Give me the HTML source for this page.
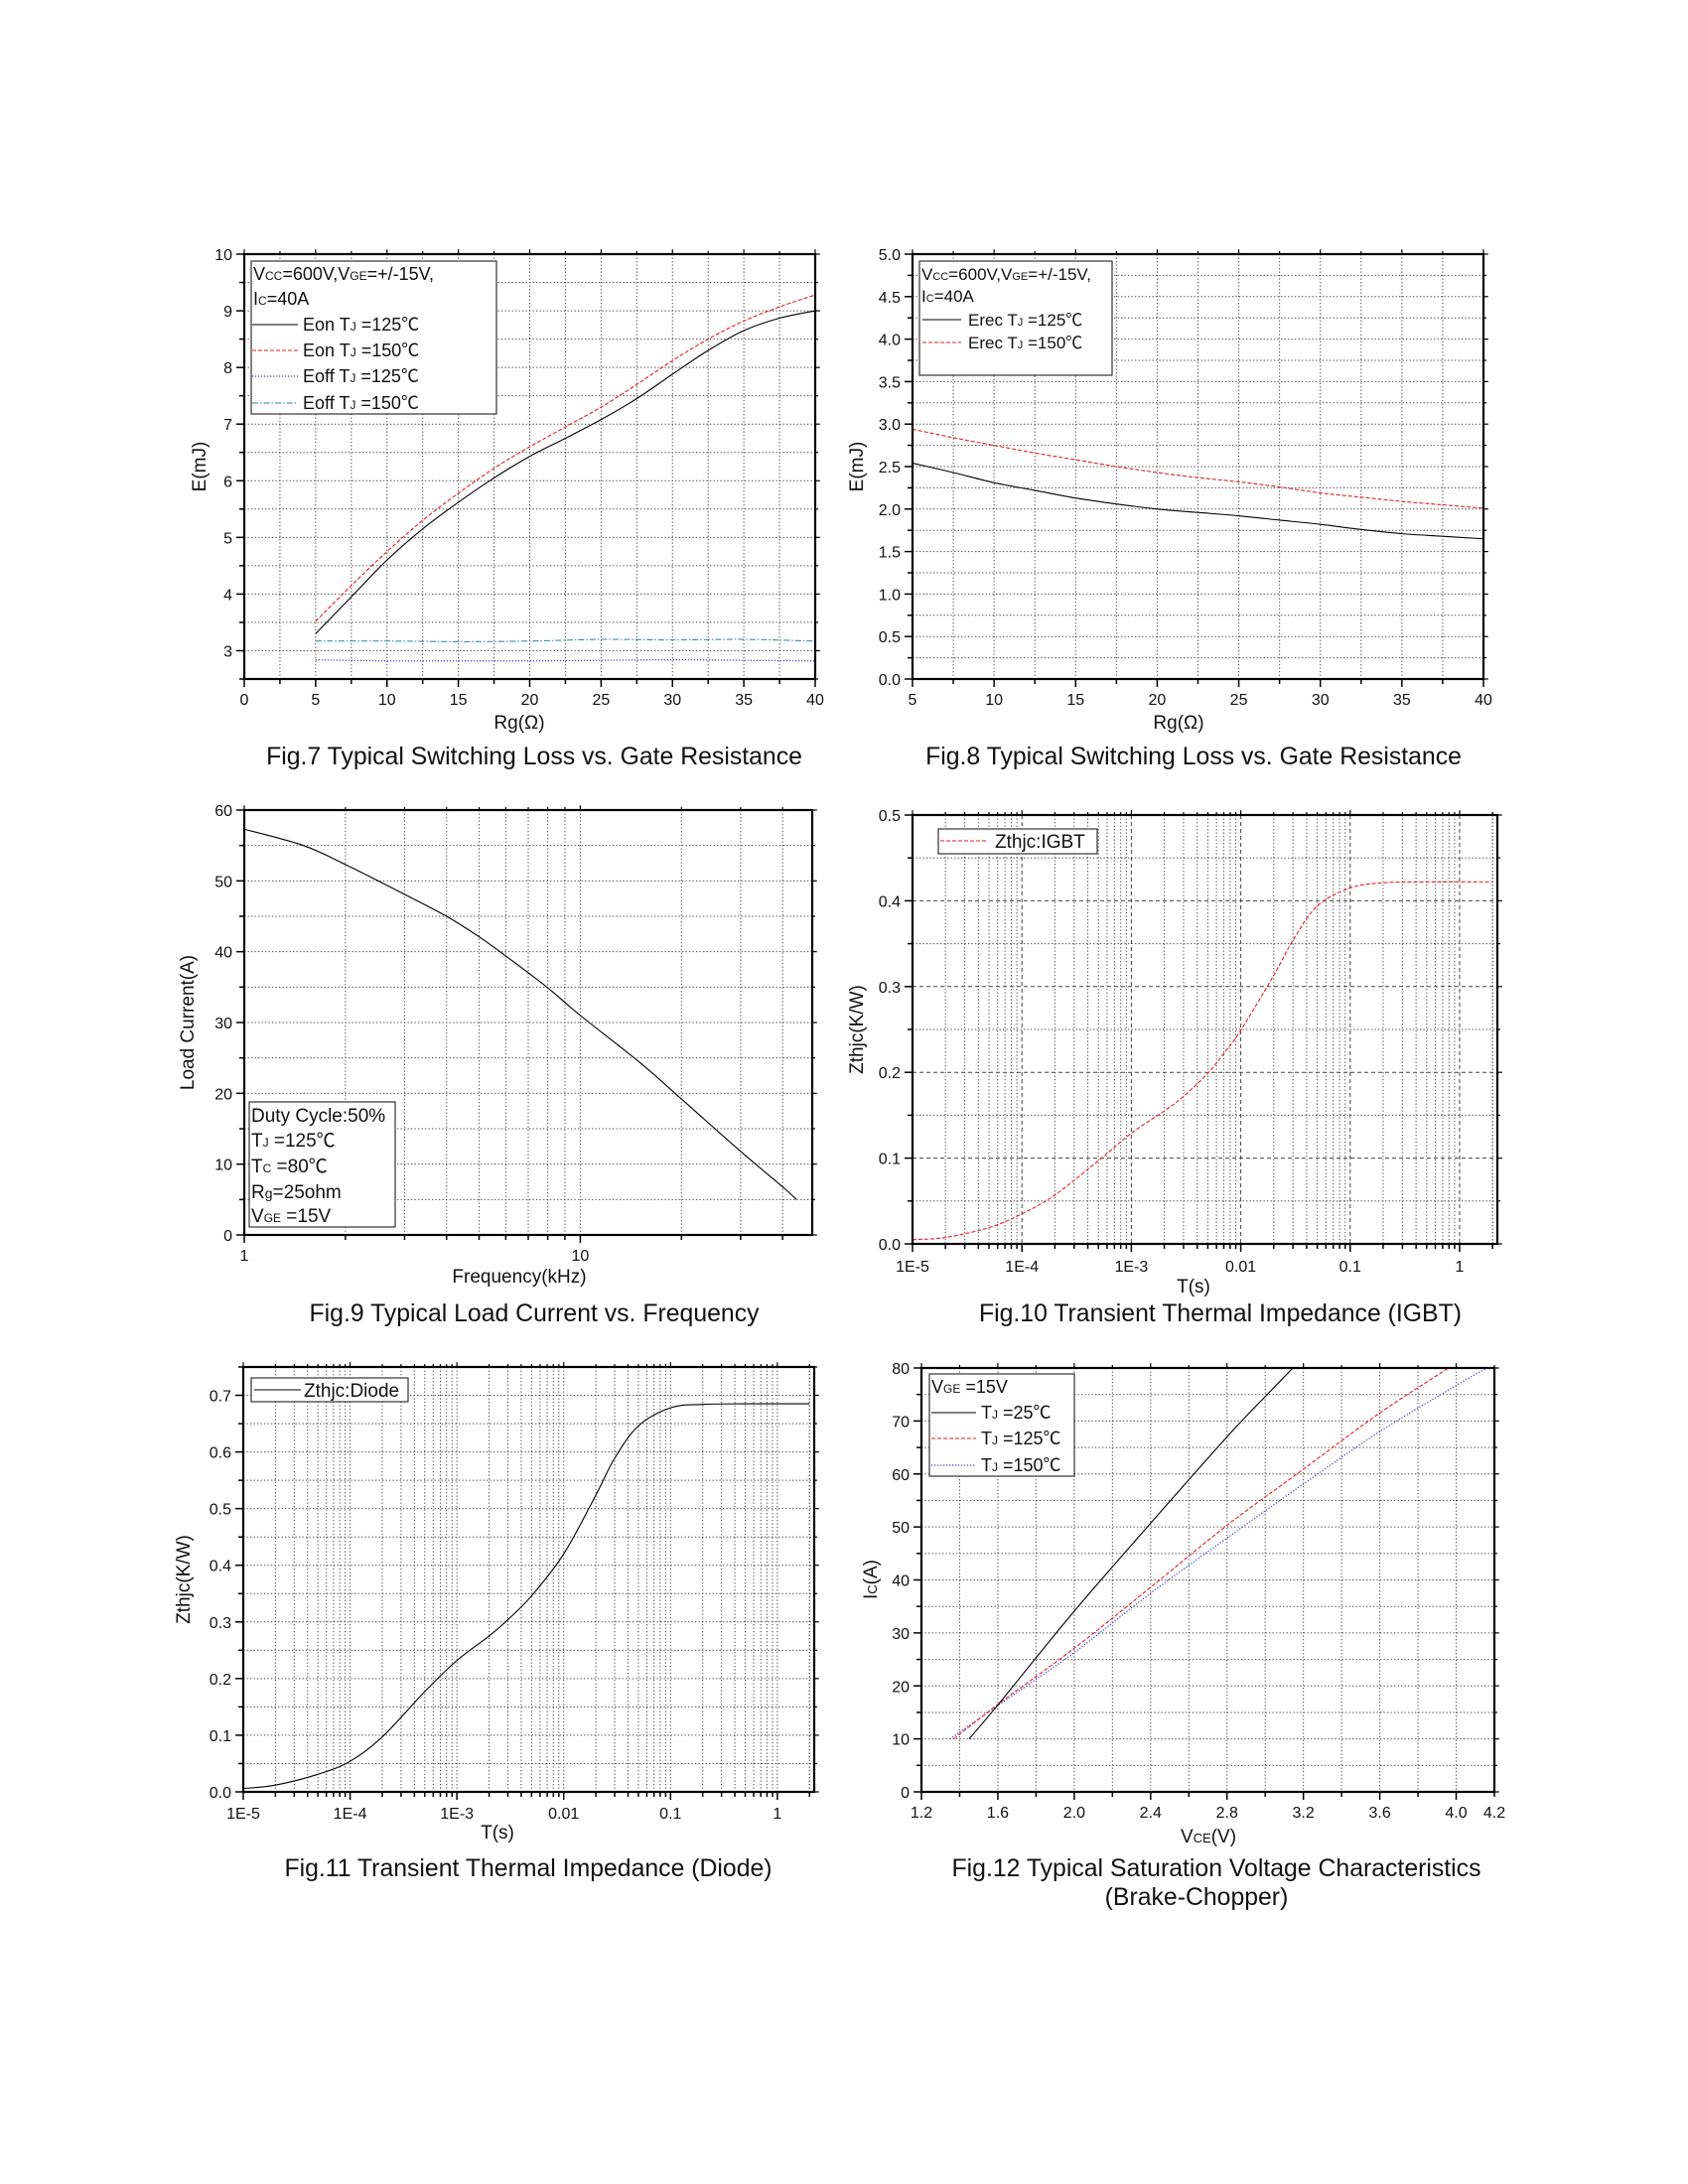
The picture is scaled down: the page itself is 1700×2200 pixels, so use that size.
<!DOCTYPE html>
<html><head><meta charset="utf-8"><style>
html,body{margin:0;padding:0;background:#fff;}
svg{display:block;font-family:"Liberation Sans","Noto Sans CJK SC",sans-serif;}
</style></head><body>
<svg id="page" xmlns="http://www.w3.org/2000/svg" width="1700" height="2200" viewBox="0 0 1700 2200">
<rect width="1700" height="2200" fill="#fff"/>
<g id="g7"></g>
<g id="g8"></g>
<g id="g9"></g>
<g id="g10"></g>
<g id="g11"></g>
<g id="g12"></g>

<!-- captions -->
<g font-size="24.8" fill="#111" text-anchor="middle">
<text x="538" y="770">Fig.7 Typical Switching Loss vs. Gate Resistance</text>
<text x="1202" y="770">Fig.8 Typical Switching Loss vs. Gate Resistance</text>
<text x="538" y="1331">Fig.9 Typical Load Current vs. Frequency</text>
<text x="1229" y="1331">Fig.10 Transient Thermal Impedance (IGBT)</text>
<text x="532" y="1890">Fig.11 Transient Thermal Impedance (Diode)</text>
<text x="1225" y="1890">Fig.12 Typical Saturation Voltage Characteristics</text>
<text x="1205" y="1919">(Brake-Chopper)</text>
</g>

<!-- axis titles -->
<g font-size="19" fill="#111" text-anchor="middle">
<text x="523" y="734">Rg(Ω)</text>
<text transform="translate(207,470) rotate(-90)">E(mJ)</text>
<text x="1187" y="734">Rg(Ω)</text>
<text transform="translate(869,470) rotate(-90)">E(mJ)</text>
<text x="523" y="1292">Frequency(kHz)</text>
<text transform="translate(195,1030) rotate(-90)">Load Current(A)</text>
<text x="1202" y="1302">T(s)</text>
<text transform="translate(869,1037) rotate(-90)">Zthjc(K/W)</text>
<text x="501" y="1852">T(s)</text>
<text transform="translate(191,1591) rotate(-90)">Zthjc(K/W)</text>
<text x="1217" y="1856">V<tspan font-size="13">CE</tspan>(V)</text>
<text transform="translate(883,1591) rotate(-90)">I<tspan font-size="13">C</tspan>(A)</text>
</g>

<!-- legends -->
<g id="leg7" font-size="18" fill="#111">
<rect x="253" y="263" width="247" height="154" fill="#fff" stroke="#333" stroke-width="1.2"/>
<text x="255" y="282">V<tspan font-size="12">CC</tspan>=600V,V<tspan font-size="12">GE</tspan>=+/-15V,</text>
<text x="255" y="307">I<tspan font-size="12">C</tspan>=40A</text>
<line x1="254" y1="327" x2="300" y2="327" stroke="#000" stroke-width="1"/>
<text x="305" y="333">Eon T<tspan font-size="12">J</tspan> =125℃</text>
<line x1="254" y1="353" x2="300" y2="353" stroke="#e0202a" stroke-width="1" stroke-dasharray="4 2"/>
<text x="305" y="359">Eon T<tspan font-size="12">J</tspan> =150℃</text>
<line x1="254" y1="379" x2="300" y2="379" stroke="#3b3bc8" stroke-width="1.2" stroke-dasharray="1.2 1.8"/>
<text x="305" y="385">Eoff T<tspan font-size="12">J</tspan> =125℃</text>
<line x1="254" y1="406" x2="300" y2="406" stroke="#1f8a8a" stroke-width="1" stroke-dasharray="6 2 1.5 2"/>
<text x="305" y="412">Eoff T<tspan font-size="12">J</tspan> =150℃</text>
</g>
<g id="leg8" font-size="17" fill="#111">
<rect x="926" y="263" width="194" height="115" fill="#fff" stroke="#333" stroke-width="1.2"/>
<text x="928" y="282">V<tspan font-size="11">CC</tspan>=600V,V<tspan font-size="11">GE</tspan>=+/-15V,</text>
<text x="928" y="304">I<tspan font-size="11">C</tspan>=40A</text>
<line x1="929" y1="322" x2="968" y2="322" stroke="#000" stroke-width="1"/>
<text x="975" y="328">Erec T<tspan font-size="11">J</tspan> =125℃</text>
<line x1="929" y1="345" x2="968" y2="345" stroke="#e0202a" stroke-width="1" stroke-dasharray="4 2"/>
<text x="975" y="351">Erec T<tspan font-size="11">J</tspan> =150℃</text>
</g>
<g id="leg9" font-size="19" fill="#111">
<rect x="251" y="1110" width="147" height="126" fill="#fff" stroke="#333" stroke-width="1.2"/>
<text x="253" y="1130">Duty Cycle:50%</text>
<text x="253" y="1155">T<tspan font-size="12">J</tspan> =125℃</text>
<text x="253" y="1181">T<tspan font-size="12">C</tspan> =80℃</text>
<text x="253" y="1207">R<tspan font-size="14">g</tspan>=25ohm</text>
<text x="253" y="1231">V<tspan font-size="12">GE</tspan> =15V</text>
</g>
<g id="leg10" font-size="19" fill="#111">
<rect x="945" y="835" width="160" height="25" fill="#fff" stroke="#333" stroke-width="1.2"/>
<line x1="947" y1="847" x2="994" y2="847" stroke="#e0202a" stroke-width="1" stroke-dasharray="4 2"/>
<text x="1002" y="854">Zthjc:IGBT</text>
</g>
<g id="leg11" font-size="19" fill="#111">
<rect x="253" y="1388" width="158" height="24" fill="#fff" stroke="#333" stroke-width="1.2"/>
<line x1="256" y1="1400" x2="303" y2="1400" stroke="#000" stroke-width="1"/>
<text x="306" y="1407">Zthjc:Diode</text>
</g>
<g id="leg12" font-size="18" fill="#111">
<rect x="936" y="1384" width="146" height="103" fill="#fff" stroke="#333" stroke-width="1.2"/>
<text x="938" y="1403">V<tspan font-size="12">GE</tspan> =15V</text>
<line x1="938" y1="1423" x2="983" y2="1423" stroke="#000" stroke-width="1"/>
<text x="988" y="1429">T<tspan font-size="12">J</tspan> =25℃</text>
<line x1="938" y1="1449" x2="983" y2="1449" stroke="#e0202a" stroke-width="1" stroke-dasharray="4 2"/>
<text x="988" y="1455">T<tspan font-size="12">J</tspan> =125℃</text>
<line x1="938" y1="1476" x2="983" y2="1476" stroke="#3b3bc8" stroke-width="1.2" stroke-dasharray="1.2 1.8"/>
<text x="988" y="1482">T<tspan font-size="12">J</tspan> =150℃</text>
</g>
</svg>
<script>
// ---------- data ----------
const fig7Rg = [5,7.5,10,12.5,15,17.5,20,22.5,25,27.5,30,32.5,35,37.5,40];
const fig7EonT125 = [3.3,3.95,4.6,5.15,5.62,6.05,6.43,6.75,7.08,7.45,7.88,8.3,8.65,8.87,9.0];
const fig7EonT150 = [3.52,4.15,4.75,5.3,5.78,6.22,6.6,6.95,7.3,7.7,8.12,8.5,8.82,9.07,9.28];
const fig7RgOff = [5,10,15,20,25,30,35,40];
const fig7EoffT125 = [2.84,2.82,2.82,2.82,2.83,2.84,2.83,2.82];
const fig7EoffT150 = [3.17,3.17,3.16,3.17,3.2,3.19,3.2,3.17];
const fig7XTicks = [0,5,10,15,20,25,30,35,40];
const fig7YTicks = [3,4,5,6,7,8,9,10];

const fig8Rg = [5,7.5,10,12.5,15,17.5,20,22.5,25,27.5,30,32.5,35,37.5,40];
const fig8ErecT125 = [2.54,2.43,2.31,2.22,2.13,2.06,2.0,1.96,1.92,1.87,1.82,1.76,1.71,1.68,1.65];
const fig8ErecT150 = [2.94,2.84,2.75,2.66,2.58,2.5,2.43,2.37,2.32,2.26,2.19,2.14,2.09,2.05,2.01];
const fig8XTicks = [5,10,15,20,25,30,35,40];
const fig8YTicks = ['0.0','0.5','1.0','1.5','2.0','2.5','3.0','3.5','4.0','4.5','5.0'];

const fig9Freq = [1,1.5,2,3,4,5,6,8,10,15,20,30,40,44];
const fig9Current = [57.3,55.0,52.3,48.1,45.0,42.1,39.4,34.9,31.0,24.4,19.2,11.8,6.8,5.0];
const fig9XTicks = [1,10];
const fig9YTicks = [0,10,20,30,40,50,60];

const fig10Time = [1e-5,2e-5,5e-5,1e-4,2e-4,5e-4,1e-3,2e-3,3e-3,5e-3,7e-3,1e-2,2e-2,3e-2,5e-2,0.1,0.2,0.5,2];
const fig10Zth = [0.005,0.0075,0.019,0.035,0.057,0.097,0.129,0.155,0.172,0.199,0.222,0.249,0.313,0.354,0.394,0.415,0.421,0.422,0.422];
const fig10XTicks = ['1E-5','1E-4','1E-3','0.01','0.1','1'];
const fig10YTicks = ['0.0','0.1','0.2','0.3','0.4','0.5'];

const fig11Time = [1e-5,2e-5,5e-5,1e-4,2e-4,5e-4,1e-3,2e-3,3e-3,5e-3,1e-2,2e-2,3e-2,5e-2,0.1,0.2,0.5,2];
const fig11Zth = [0.006,0.012,0.031,0.054,0.097,0.177,0.232,0.275,0.304,0.346,0.42,0.524,0.589,0.646,0.678,0.684,0.685,0.685];
const fig11XTicks = ['1E-5','1E-4','1E-3','0.01','0.1','1'];
const fig11YTicks = ['0.0','0.1','0.2','0.3','0.4','0.5','0.6','0.7'];

const fig12VceT25 = [1.45,1.6,2.0,2.4,2.8,3.0,3.145];
const fig12IcT25 = [10,16.4,34.1,50.7,67,74.6,80];
const fig12VceT125 = [1.37,1.6,2.0,2.4,2.8,3.2,3.6,3.96];
const fig12IcT125 = [10,16.5,27.1,38.6,50.3,60.9,71.5,80];
const fig12VceT150 = [1.35,1.6,2.0,2.4,2.8,3.2,3.6,4.0,4.16];
const fig12IcT150 = [10,16.3,26.3,37.5,47.9,58.1,68,76.7,80];
const fig12XTicks = ['1.2','1.6','2.0','2.4','2.8','3.2','3.6','4.0','4.2'];
const fig12YTicks = [0,10,20,30,40,50,60,70,80];

// ---------- helpers ----------
const NS = 'http://www.w3.org/2000/svg';
function mk(tag, attrs, parent){
  const e = document.createElementNS(NS, tag);
  for (const k in attrs) e.setAttribute(k, attrs[k]);
  parent.appendChild(e);
  return e;
}
function linScale(d0,d1,r0,r1){ return v => r0 + (v-d0)/(d1-d0)*(r1-r0); }
function logScale(d0,d1,r0,r1){ const a=Math.log10(d0), b=Math.log10(d1); return v => r0 + (Math.log10(v)-a)/(b-a)*(r1-r0); }
function smoothPath(pts){
  let d = 'M'+pts[0][0].toFixed(2)+','+pts[0][1].toFixed(2);
  for (let i=0;i<pts.length-1;i++){
    const p0=pts[Math.max(0,i-1)], p1=pts[i], p2=pts[i+1], p3=pts[Math.min(pts.length-1,i+2)];
    const c1=[p1[0]+(p2[0]-p0[0])/6, p1[1]+(p2[1]-p0[1])/6];
    const c2=[p2[0]-(p3[0]-p1[0])/6, p2[1]-(p3[1]-p1[1])/6];
    d += ' C'+c1[0].toFixed(2)+','+c1[1].toFixed(2)+' '+c2[0].toFixed(2)+','+c2[1].toFixed(2)+' '+p2[0].toFixed(2)+','+p2[1].toFixed(2);
  }
  return d;
}
const DOT = '1.3 2.2';
function gridV(g, x, T, B, dash, name){
  const l = mk('line',{x1:x,y1:T,x2:x,y2:B,stroke:'#444','stroke-width':1,'stroke-dasharray':dash},g);
  
  
}
function gridH(g, y, L, R, dash, name){
  const l = mk('line',{x1:L,y1:y,x2:R,y2:y,stroke:'#444','stroke-width':1,'stroke-dasharray':dash},g);
  
  
}
function tickX(g, x, B, T, len){
  const t = mk('line',{x1:x,y1:B,x2:x,y2:B+len,stroke:'#000','stroke-width':1.5},g);
  
  
  const t2 = mk('line',{x1:x,y1:T,x2:x,y2:T-len*0.6,stroke:'#000','stroke-width':1.2},g);
  
  
}
function tickY(g, y, L, R, len){
  const t = mk('line',{x1:L-len,y1:y,x2:L,y2:y,stroke:'#000','stroke-width':1.5},g);
  
  
  const t2 = mk('line',{x1:R,y1:y,x2:R+len*0.6,y2:y,stroke:'#000','stroke-width':1.2},g);
  
  
}
function labelX(g, x, y, s){
  const t = mk('text',{x:x,y:y,'text-anchor':'middle','font-size':16,fill:'#111'},g);
  t.textContent = s;
  
  
}
function labelY(g, x, y, s){
  const t = mk('text',{x:x,y:y+6,'text-anchor':'end','font-size':16,fill:'#111'},g);
  t.textContent = s;
  
  
}
function frame(g, L, R, T, B){
  const r = mk('rect',{x:L,y:T,width:R-L,height:B-T,fill:'none',stroke:'#000','stroke-width':2.2},g);
  
  
}
function series(g, xs, ys, sx, sy, stroke, dash, w, name){
  const pts = xs.map((x,i)=>[sx(x), sy(ys[i])]);
  const p = mk('path',{d:smoothPath(pts),fill:'none',stroke:stroke,'stroke-width':w,'stroke-dasharray':dash},g);
  
  
}

// ---------- Fig 7 ----------
(function(){
  const g = document.getElementById('g7');
  const L=246,R=821,T=256,B=684;
  const sx = linScale(0,40,L,R), sy = linScale(2.5,10,B,T);
  for (let v=2.5; v<40; v+=2.5) gridV(g, sx(v), T, B, DOT, 'grid-line-x');
  for (let v=3; v<10; v+=0.5) gridH(g, sy(v), L, R, DOT, 'grid-line-y');
  for (let v=0; v<=40; v+=2.5) tickX(g, sx(v), B, T, v%5===0?8:5);
  for (let v=2.5; v<=10; v+=0.5) tickY(g, sy(v), L, R, v%1===0?8:5);
  fig7XTicks.forEach(v=>labelX(g, sx(v), 710, String(v)));
  fig7YTicks.forEach(v=>labelY(g, L-12, sy(v), String(v)));
  series(g, fig7RgOff, fig7EoffT125, sx, sy, '#3b3bc8', '1.2 1.8', 1.2, 'eoff-125-line');
  series(g, fig7RgOff, fig7EoffT150, sx, sy, '#1f8a8a', '6 2 1.5 2', 1, 'eoff-150-line');
  series(g, fig7Rg, fig7EonT150, sx, sy, '#e0202a', '4 2', 1.1, 'eon-150-line');
  series(g, fig7Rg, fig7EonT125, sx, sy, '#000', 'none', 1.1, 'eon-125-line');
  frame(g, L, R, T, B);
})();

// ---------- Fig 8 ----------
(function(){
  const g = document.getElementById('g8');
  const L=919,R=1494,T=256,B=684;
  const sx = linScale(5,40,L,R), sy = linScale(0,5,B,T);
  for (let v=7.5; v<40; v+=2.5) gridV(g, sx(v), T, B, DOT, 'grid-line-x');
  for (let v=0.25; v<5; v+=0.25) gridH(g, sy(v), L, R, DOT, 'grid-line-y');
  for (let v=5; v<=40; v+=2.5) tickX(g, sx(v), B, T, v%5===0?8:5);
  for (let v=0; v<=5.001; v+=0.25) tickY(g, sy(v), L, R, Math.abs(v*2-Math.round(v*2))<0.01?8:5);
  fig8XTicks.forEach(v=>labelX(g, sx(v), 710, String(v)));
  fig8YTicks.forEach(v=>labelY(g, L-12, sy(parseFloat(v)), v));
  series(g, fig8Rg, fig8ErecT150, sx, sy, '#e0202a', '4 2', 1.1, 'erec-150-line');
  series(g, fig8Rg, fig8ErecT125, sx, sy, '#000', 'none', 1.1, 'erec-125-line');
  frame(g, L, R, T, B);
})();

// ---------- Fig 9 ----------
(function(){
  const g = document.getElementById('g9');
  const L=246,R=818,T=816,B=1244;
  const sx = logScale(1,49,L,R), sy = linScale(0,60,B,T);
  const minors = [2,3,4,5,6,7,8,9,10,20,30,40];
  minors.forEach(v=>gridV(g, sx(v), T, B, DOT, 'grid-line-x'));
  for (let v=5; v<60; v+=5) gridH(g, sy(v), L, R, DOT, 'grid-line-y');
  [1].concat(minors).forEach(v=>tickX(g, sx(v), B, T, (v===1||v===10)?8:5));
  for (let v=0; v<=60; v+=5) tickY(g, sy(v), L, R, v%10===0?8:5);
  fig9XTicks.forEach(v=>labelX(g, sx(v), 1270, String(v)));
  fig9YTicks.forEach(v=>labelY(g, L-12, sy(v), String(v)));
  series(g, fig9Freq, fig9Current, sx, sy, '#000', 'none', 1.1, 'load-current-line');
  frame(g, L, R, T, B);
})();

// ---------- log thermal chart helper ----------
function thermal(id, L, R, T, B, ymax, yTicks, xTicks, xs, ys, stroke, dash, majorDash, tickY0, name){
  const g = document.getElementById(id);
  const dec = (R-L)/5.345;
  const sxx = v => L + (Math.log10(v)+5)*dec;
  const sy = linScale(0, ymax, B, T);
  for (let e=-5; e<=0; e++){
    for (let m=1; m<=9; m++){
      const v = m*Math.pow(10,e);
      const x = sxx(v);
      if (x > R-1) continue;
      if (!(e===-5 && m===1)) gridV(g, x, T, B, m===1?majorDash:DOT, m===1?'grid-line-decade':'grid-line-x');
      tickX(g, x, B, T, m===1?8:5);
    }
  }
  if (sxx(2) < R-1){ gridV(g, sxx(2), T, B, DOT, 'grid-line-x'); tickX(g, sxx(2), B, T, 5); }
  for (let v=0.05; v<ymax-0.001; v+=0.05){
    const major = Math.abs(v*10-Math.round(v*10))<0.01;
    gridH(g, sy(v), L, R, major?majorDash:DOT, 'grid-line-y');
  }
  for (let v=0; v<=ymax+0.001; v+=0.05){
    const major = Math.abs(v*10-Math.round(v*10))<0.01;
    tickY(g, sy(v), L, R, major?8:5);
  }
  xTicks.forEach((s,i)=>labelX(g, sxx(Math.pow(10,i-5)), tickY0, s));
  yTicks.forEach(s=>labelY(g, L-12, sy(parseFloat(s)), s));
  series(g, xs, ys, sxx, sy, stroke, dash, 1.1, name);
  frame(g, L, R, T, B);
}
thermal('g10', 919, 1508, 821, 1253, 0.5, fig10YTicks, fig10XTicks, fig10Time, fig10Zth, '#e0202a', '4 2', '4 3', 1281, 'zthjc-igbt-line');
thermal('g11', 245, 820, 1377, 1805, 0.75, fig11YTicks, fig11XTicks, fig11Time, fig11Zth, '#000', 'none', DOT, 1832, 'zthjc-diode-line');

// ---------- Fig 12 ----------
(function(){
  const g = document.getElementById('g12');
  const L=928,R=1505,T=1378,B=1805;
  const sx = linScale(1.2,4.2,L,R), sy = linScale(0,80,B,T);
  for (let i=1; i<15; i++) gridV(g, sx(1.2+i*0.2), T, B, DOT, 'grid-line-x');
  for (let v=5; v<80; v+=5) gridH(g, sy(v), L, R, DOT, 'grid-line-y');
  for (let i=0; i<=15; i++) tickX(g, sx(1.2+i*0.2), B, T, i%2===0?8:5);
  for (let v=0; v<=80; v+=5) tickY(g, sy(v), L, R, v%10===0?8:5);
  fig12XTicks.forEach(s=>labelX(g, sx(parseFloat(s)), 1831, s));
  fig12YTicks.forEach(v=>labelY(g, L-12, sy(v), String(v)));
  series(g, fig12VceT150, fig12IcT150, sx, sy, '#3b3bc8', '1.2 1.8', 1.2, 'vce-150-line');
  series(g, fig12VceT125, fig12IcT125, sx, sy, '#e0202a', '4 2', 1.1, 'vce-125-line');
  series(g, fig12VceT25, fig12IcT25, sx, sy, '#000', 'none', 1.1, 'vce-25-line');
  frame(g, L, R, T, B);
})();

// bring legends to front
['leg7','leg8','leg9','leg10','leg11','leg12'].forEach(id=>{
  const e=document.getElementById(id); e.parentNode.appendChild(e);
});
</script>
</body></html>
